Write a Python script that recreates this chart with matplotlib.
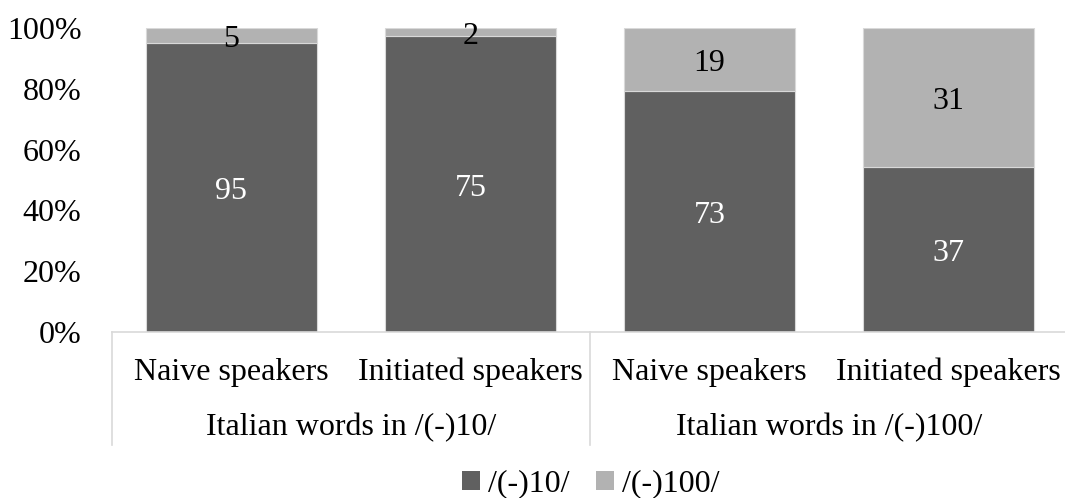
import matplotlib.pyplot as plt
import matplotlib.transforms as mtransforms
from matplotlib.patches import Patch
import numpy as np

plt.rcParams['font.family'] = ['Liberation Serif', 'DejaVu Serif']

categories = ['Naive speakers', 'Initiated speakers', 'Naive speakers', 'Initiated speakers']
groups = ['Italian words in /(-)10/', 'Italian words in /(-)100/']
series_names = ['/(-)10/', '/(-)100/']
counts_10 = [95, 75, 73, 37]
counts_100 = [5, 2, 19, 31]

dark = '#606060'
light = '#b2b2b2'
edge = '#d9d9d9'
fs = 23

c10 = np.array(counts_10, dtype=float)
c100 = np.array(counts_100, dtype=float)
tot = c10 + c100
p10 = c10 / tot
p100 = c100 / tot

fig = plt.figure(figsize=(10.65, 4.98), dpi=100)
ax = fig.add_axes([112 / 1065, 1 - 332 / 498, 956 / 1065, 304 / 498])

x = np.arange(len(categories))
w = 0.715
ax.bar(x, p10, w, color=dark, edgecolor=edge, linewidth=0.8)
ax.bar(x, p100, w, bottom=p10, color=light, edgecolor=edge, linewidth=0.8)

# count labels centred in each segment (nudged down a little)
lab_tr = mtransforms.offset_copy(ax.transData, fig=fig, y=-3, units='points')
for i in range(len(x)):
    ax.text(x[i], p10[i] / 2, str(counts_10[i]), ha='center', va='center',
            color='white', fontsize=fs, transform=lab_tr)
    ax.text(x[i], p10[i] + p100[i] / 2, str(counts_100[i]), ha='center', va='center',
            color='black', fontsize=fs, transform=lab_tr)

ax.set_xlim(-0.5, 3.5)
ax.set_ylim(0, 1)
ax.set_yticks(np.arange(0, 1.01, 0.2))
ax.set_yticklabels(['%d%%' % v for v in range(0, 101, 20)], fontsize=fs)
ax.tick_params(axis='y', length=0, pad=22)
ax.set_xticks([])
for s in ['top', 'right', 'left']:
    ax.spines[s].set_visible(False)
ax.spines['bottom'].set_color(edge)
ax.spines['bottom'].set_linewidth(1.2)

# group separators below the axis
trans = mtransforms.blended_transform_factory(ax.transData, ax.transAxes)
for xb in [-0.5, 1.5, 3.5]:
    ax.plot([xb, xb], [0, -113 / 304], color=edge, linewidth=1.2,
            transform=trans, clip_on=False)

for i, c in enumerate(categories):
    ax.text(x[i], -40 / 304, c, ha='center', va='center', fontsize=fs,
            transform=trans)
for g, name in enumerate(groups):
    ax.text(2 * g + 0.5, -96 / 304, name, ha='center', va='center', fontsize=fs,
            transform=trans)

handles = [Patch(facecolor=dark, edgecolor='none'), Patch(facecolor=light, edgecolor='none')]
fig.legend(handles, series_names, loc='center', bbox_to_anchor=(591 / 1065, 1 - 484 / 498),
           ncol=2, frameon=False, fontsize=fs, handlelength=0.55, handleheight=0.55,
           handletextpad=0.27, columnspacing=0.83, borderpad=0)

fig.savefig('out.png', dpi=100)
